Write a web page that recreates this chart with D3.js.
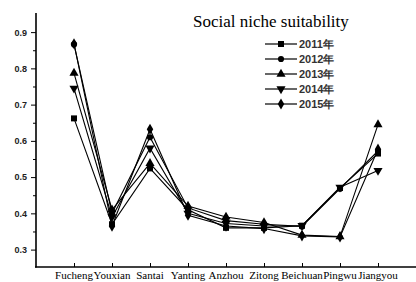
<!DOCTYPE html>
<html><head><meta charset="utf-8">
<script src="https://cdn.jsdelivr.net/npm/d3@7"></script>
<style>body{margin:0;background:#fff}svg{display:block}</style>
</head><body>
<script>
const categories = ["Fucheng","Youxian","Santai","Yanting","Anzhou","Zitong","Beichuan","Pingwu","Jiangyou"];
const seriesNames = ["2011年","2012年","2013年","2014年","2015年"];
const v2011 = [0.662,0.370,0.524,0.410,0.360,0.360,0.366,0.470,0.565];
const v2012 = [0.866,0.400,0.610,0.415,0.380,0.370,0.364,0.468,0.572];
const v2013 = [0.787,0.410,0.538,0.420,0.390,0.375,0.340,0.336,0.645];
const v2014 = [0.745,0.390,0.580,0.400,0.372,0.365,0.366,0.472,0.518];
const v2015 = [0.868,0.365,0.632,0.395,0.365,0.358,0.338,0.335,0.577];
const yTicks = [0.3,0.4,0.5,0.6,0.7,0.8,0.9];
const title = "Social niche suitability";

const series = [v2011,v2012,v2013,v2014,v2015];
const symbols = [d3.symbolSquare,d3.symbolCircle,d3.symbolTriangle,d3.symbolTriangle,d3.symbolDiamond];

const W=416,H=282;
const svg=d3.select("body").append("svg").attr("width",W).attr("height",H);
const x=d3.scaleLinear().domain([0,categories.length+1]).range([36,416]);
const y=d3.scaleLinear().domain([0.252,0.95]).range([267,14]);

// y axis
const yAxis=d3.axisLeft(y).tickValues(yTicks).tickFormat(d3.format(".1f")).tickSize(5).tickPadding(4);
const gy=svg.append("g").attr("transform","translate(36,0)").call(yAxis);
gy.select(".domain").remove();
gy.selectAll("text").attr("font-family","Liberation Sans, Arial, sans-serif").attr("font-size","9px").attr("font-weight","bold").attr("fill","#222");
svg.append("g").attr("transform","translate(36,0)")
  .call(d3.axisLeft(y).tickValues(d3.range(0.35,0.95,0.1)).tickSize(3).tickFormat(""))
  .select(".domain").remove();
svg.append("line").attr("x1",36).attr("x2",36).attr("y1",13).attr("y2",267.5).attr("stroke","#000").attr("stroke-width",1.6);

// x axis
const gx=svg.append("g").attr("transform","translate(0,267)")
  .call(d3.axisTop(x).tickValues(d3.range(1,categories.length+1)).tickSize(4).tickFormat(""));
gx.select(".domain").remove();
svg.append("line").attr("x1",35).attr("x2",416).attr("y1",267).attr("y2",267).attr("stroke","#000").attr("stroke-width",1.6);
svg.append("g").selectAll("text").data(categories).join("text")
  .attr("x",(d,i)=>x(i+1)).attr("y",279).attr("text-anchor","middle")
  .attr("font-family","Liberation Serif, Times New Roman, serif").attr("font-size","11px").attr("fill","#000")
  .text(d=>d);

// lines
const line=d3.line().x((d,i)=>x(i+1)).y(d=>y(d));
series.forEach((s,k)=>{
  svg.append("path").datum(s).attr("d",line).attr("fill","none").attr("stroke","#000").attr("stroke-width",1.1);
});
series.forEach((s,k)=>{
  const sym=d3.symbol().type(symbols[k]).size(k===1?30:36);
  svg.append("g").selectAll("path").data(s).join("path")
    .attr("d",sym)
    .attr("transform",(d,i)=>`translate(${x(i+1)},${y(d)})${k===3?" rotate(180)":""}`)
    .attr("fill","#000");
});

// title
svg.append("text").attr("x",193).attr("y",27).attr("font-family","Liberation Serif, Times New Roman, serif")
  .attr("font-size","17px").attr("fill","#000").text(title);

// legend
seriesNames.forEach((n,k)=>{
  const yy=44+k*15;
  svg.append("line").attr("x1",265).attr("x2",297).attr("y1",yy).attr("y2",yy).attr("stroke","#000").attr("stroke-width",1.2);
  svg.append("path").attr("d",d3.symbol().type(symbols[k]).size(k===1?30:36)())
    .attr("transform",`translate(281,${yy})${k===3?" rotate(180)":""}`).attr("fill","#000");
  svg.append("text").attr("x",299).attr("y",yy+4).attr("font-family","Liberation Sans, Arial, sans-serif")
    .attr("font-size","11px").attr("font-weight","bold").attr("fill","#333").text(n);
});
</script>
</body></html>
